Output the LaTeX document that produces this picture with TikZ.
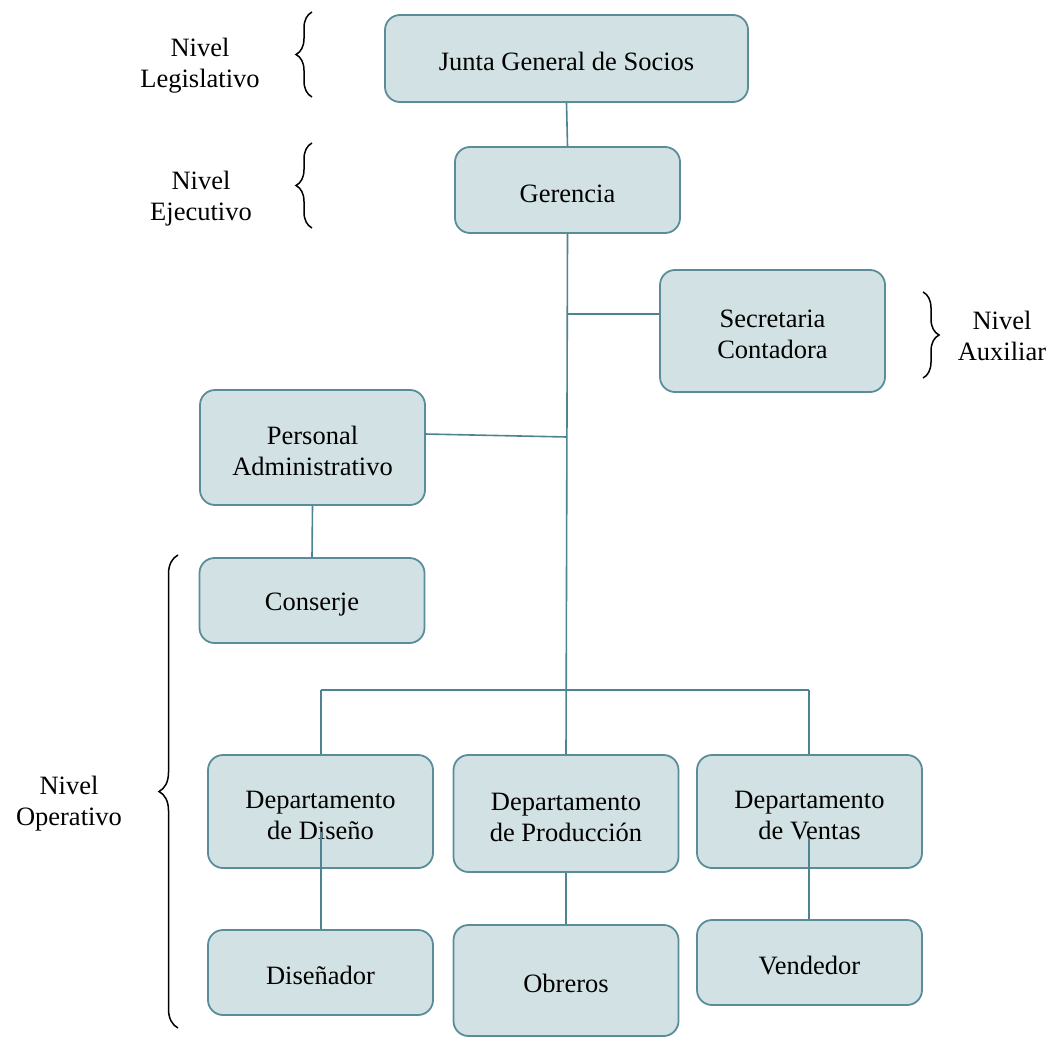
\documentclass[tikz,border=0pt]{standalone}
\usepackage{fontspec}
\setmainfont{Liberation Serif}
\usetikzlibrary{decorations.pathreplacing}
\definecolor{boxfill}{HTML}{D2E1E3}
\definecolor{boxedge}{HTML}{5A8D99}
\definecolor{linkcol}{HTML}{4E8391}
% tall strut that sets the text a little below the box centre
\newcommand\toplift{\rule{0pt}{25pt}}
\begin{document}
\begin{tikzpicture}[x=1pt,y=-1pt,
  every node/.style={font=\fontsize{26.5}{31}\selectfont},
  unit/.style={draw=boxedge, fill=boxfill, line width=1.8pt, rounded corners=15pt,
    align=center, inner sep=0pt, minimum width=225pt},
  link/.style={draw=linkcol, line width=1.6pt},
  lvl/.style={align=center, inner sep=0pt},
  bracket/.style={draw=black, line width=1.5pt, decorate,
    decoration={brace, amplitude=#1}}]
\useasboundingbox (0,0) rectangle (1054,1038);

% organisation units
\node[unit, minimum width=363pt, minimum height=87pt] (junta) at (566.5,58.5) {\toplift Junta General de Socios};
\node[unit, minimum height=86pt] (ger) at (567.5,190) {\toplift Gerencia};
\node[unit, minimum height=122pt] (sec) at (772.5,331) {\toplift Secretaria\\Contadora};
\node[unit, minimum height=115pt] (pers) at (312.5,447.5) {\toplift Personal\\Administrativo};
\node[unit, minimum height=85pt] (cons) at (312,600.5) {\toplift Conserje};
\node[unit, minimum height=113pt] (ddis) at (320.5,811.5) {\toplift Departamento\\de Diseño};
\node[unit, minimum height=117pt] (dpro) at (566,813.5) {\toplift Departamento\\de Producción};
\node[unit, minimum height=113pt] (dven) at (809.5,811.5) {\toplift Departamento\\de Ventas};
\node[unit, minimum height=85pt] (disr) at (320.5,972.5) {\toplift Diseñador};
\node[unit, minimum height=111pt] (obr) at (566,980.5) {\toplift Obreros};
\node[unit, minimum height=85pt] (vend) at (809.5,962.5) {\toplift Vendedor};

% junction points on the main line
\coordinate (jsec) at (567,314);
\coordinate (jpers) at (567,437);
\coordinate (jl) at (321,690);
\coordinate (jr) at (809,690);
\coordinate (pe) at (425,434);
\coordinate (dd) at (321,832);
\coordinate (dv) at (809,838);

% connectors
\draw[link] (junta.south) -- (ger.north);
\draw[link] (ger.south) -- (dpro.north);
\draw[link] (jsec) -- (sec.west |- jsec);
\draw[link] (pe) -- (jpers);
\draw[link] (pers.south) -- (cons.north);
\draw[link] (jl) -- (jr);
\draw[link] (jl) -- (jl |- ddis.north);
\draw[link] (jr) -- (jr |- dven.north);
\draw[link] (dd) -- (dd |- disr.north);
\draw[link] (dpro.south) -- (obr.north);
\draw[link] (dv) -- (dv |- vend.north);

% level braces and labels
\draw[bracket=16pt] (312,97) -- (312,12);
\node[lvl] (nleg) at (200,65.5) {Nivel\\Legislativo};
\draw[bracket=16pt] (312,228) -- (312,143);
\node[lvl] (nejec) at (201,198.5) {Nivel\\Ejecutivo};
\draw[bracket=16pt] (923,292) -- (923,378);
\node[lvl] (naux) at (1002,335.5) {Nivel\\Auxiliar};
\draw[bracket=19pt] (178,1028) -- (178,555);
\node[lvl] (nope) at (69,803.5) {Nivel\\Operativo};
\end{tikzpicture}
\end{document}
